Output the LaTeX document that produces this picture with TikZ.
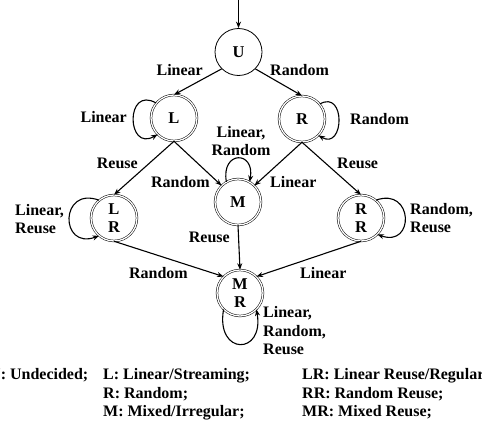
\documentclass[tikz,border=0pt]{standalone}
\usepackage{fontspec}
\setmainfont{Liberation Serif}
\usetikzlibrary{arrows.meta}
\begin{document}
\begin{tikzpicture}[x=1pt,y=-1pt,
  lbl/.style={font=\fontsize{16}{18.5}\selectfont\bfseries, inner sep=0pt},
  leg/.style={font=\fontsize{16}{18.5}\selectfont\bfseries, inner sep=0pt, anchor=base west},
  state/.style={circle, draw, line width=0.8pt, minimum size=47pt, inner sep=0pt,
     font=\fontsize{16.5}{19}\selectfont\bfseries, align=center},
  dstate/.style={state, double, line width=0.5pt, double distance=1.3pt, minimum size=46pt},
  arr/.style={line width=1.1pt, -{Stealth[length=6.5pt,width=5pt]}}]
\useasboundingbox (0,0) rectangle (482,423);

\node[state]  (U)  at (238.5,52) {U};
\node[dstate] (L)  at (174,118) {L};
\node[dstate] (R)  at (302,119) {R};
\node[dstate] (M)  at (238,202) {M};
\node[dstate] (LR) at (114,218) {L\\[-1pt]R};
\node[dstate] (RR) at (361,218) {R\\[-1pt]R};
\node[dstate] (MR) at (240,293) {M\\[-1pt]R};

\coordinate (start) at (238.5,0);
\draw[arr] (start) -- (U.north);

\draw[arr] (U.south west) -- (L.north);
\draw[arr] (U.south east) -- (R.north);
\draw[arr] (L.south) -- (LR.north);
\draw[arr] (L.south) -- (M.north west);
\draw[arr] (R.south) -- (M.north east);
\draw[arr] (R.south) -- (RR.north);
\draw[arr] (M.south) -- (MR.north);
\draw[arr] (LR.south) -- (MR.north west);
\draw[arr] (RR.south) -- (MR.north east);

% self loops (polar angles negated because the y axis points down)
\draw[arr] (L.140) .. controls +(-150:36) and +(-210:36) .. (L.225);
\draw[arr] (R.40) .. controls +(-30:30) and +(30:30) .. (R.-45);
\draw[arr] (M.120) .. controls +(-100:32) and +(-80:32) .. (M.60);
\draw[arr] (LR.130) .. controls +(-160:42) and +(-200:42) .. (LR.230);
\draw[arr] (RR.50) .. controls +(-20:40) and +(20:40) .. (RR.-45);
\draw[arr] (MR.225) .. controls +(-260:47) and +(-280:47) .. (MR.-45);

% labels
\node[lbl, anchor=east] (l1) at (203,70) {Linear};
\node[lbl, anchor=west] (l2) at (270,70) {Random};
\node[lbl, anchor=east] (l3) at (127,117) {Linear};
\node[lbl, anchor=west] (l4) at (350,119) {Random};
\node[lbl, align=center] (l5) at (241,141) {Linear,\\Random};
\node[lbl, anchor=east] (l6) at (138,163) {Reuse};
\node[lbl, anchor=east] (l7) at (210,182) {Random};
\node[lbl, anchor=west] (l8) at (270,182) {Linear};
\node[lbl, anchor=west] (l9) at (337,163) {Reuse};
\node[lbl, align=left, anchor=west] (l10) at (15,219) {Linear,\\Reuse};
\node[lbl, align=left, anchor=west] (l11) at (410,218) {Random,\\Reuse};
\node[lbl, anchor=east] (l12) at (230,237) {Reuse};
\node[lbl, anchor=east] (l13) at (188,273) {Random};
\node[lbl, anchor=west] (l14) at (300,273) {Linear};
\node[lbl, align=left, anchor=west] (l15) at (263,331) {Linear,\\Random,\\Reuse};

% legend
\node[leg] (g1) at (-11,379) {U: Undecided;};
\node[leg] (g2) at (103,379) {L: Linear/Streaming;};
\node[leg] (g3) at (103,398) {R: Random;};
\node[leg] (g4) at (103,416) {M: Mixed/Irregular;};
\node[leg] (g5) at (302,379) {LR: Linear Reuse/Regular};
\node[leg] (g6) at (302,398) {RR: Random Reuse;};
\node[leg] (g7) at (302,416) {MR: Mixed Reuse;};
\end{tikzpicture}
\end{document}
